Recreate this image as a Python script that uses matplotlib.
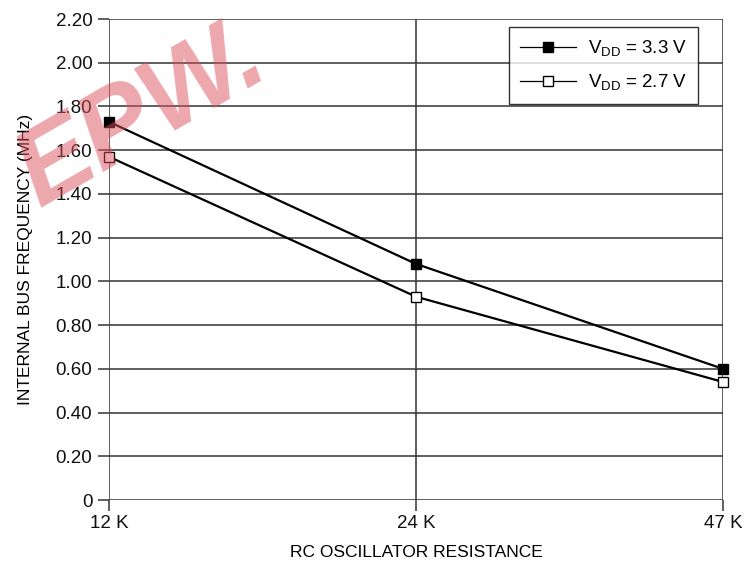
#!/usr/bin/env python3
"""Internal bus frequency vs RC oscillator resistance for two supply voltages."""

import matplotlib
matplotlib.use('Agg')
import matplotlib.pyplot as plt
from matplotlib.lines import Line2D

plt.rcParams['font.family'] = ['Liberation Sans', 'DejaVu Sans']
plt.rcParams['mathtext.fontset'] = 'custom'
plt.rcParams['mathtext.rm'] = 'Liberation Sans'
plt.rcParams['mathtext.it'] = 'Liberation Sans'

# Data
resistance_labels = ['12 K', '24 K', '47 K']
freq_3v3 = [1.73, 1.08, 0.60]
freq_2v7 = [1.57, 0.93, 0.54]
y_ticks = [0, 0.2, 0.4, 0.6, 0.8, 1.0, 1.2, 1.4, 1.6, 1.8, 2.0, 2.2]
y_tick_labels = ['0'] + [f'{v:.2f}' for v in y_ticks[1:]]

GRID = '#333333'

fig = plt.figure(figsize=(7.46, 5.65), dpi=100)
ax = fig.add_axes([0.1461, 0.1150, 0.8231, 0.8513])

x = list(range(len(resistance_labels)))
ax.plot(x, freq_3v3, color='black', lw=1.6, marker='s', ms=7.5,
        mfc='black', mec='black', mew=1, zorder=3, clip_on=False)
ax.plot(x, freq_2v7, color='black', lw=1.6, marker='s', ms=7.5,
        mfc='white', mec='black', mew=1, zorder=3, clip_on=False)

ax.set_xlim(0, 2)
ax.set_ylim(0, 2.2)
ax.set_xticks(x)
ax.set_xticklabels(resistance_labels)
ax.set_yticks(y_ticks)
ax.set_yticklabels(y_tick_labels)

for s in ax.spines.values():
    s.set_visible(False)
ax.grid(True, color=GRID, lw=1.1)
ax.set_axisbelow(True)
ax.tick_params(axis='both', direction='out', length=8, width=1.1,
               color=GRID, labelsize=13.5, labelcolor='#111111', pad=4)
ax.tick_params(axis='x', pad=3)

ax.set_xlabel('RC OSCILLATOR RESISTANCE', fontsize=12.5, labelpad=9)
ax.set_ylabel('INTERNAL BUS FREQUENCY (MHz)', fontsize=12.5, labelpad=16)

handles = [
    Line2D([], [], color='black', lw=0.9, marker='s', ms=7, mfc='black', mec='black'),
    Line2D([], [], color='black', lw=0.9, marker='s', ms=7, mfc='white', mec='black'),
]
labels = [r'V$_{\mathrm{DD}}$ = 3.3 V', r'V$_{\mathrm{DD}}$ = 2.7 V']
leg = ax.legend(handles, labels, loc='upper right', bbox_to_anchor=(698 / 746, 1 - 27 / 565),
                bbox_transform=fig.transFigure, fontsize=13.5, frameon=True, fancybox=False,
                handlelength=3.0, handletextpad=0.6, borderpad=0.6, labelspacing=0.75,
                borderaxespad=0)
leg.get_frame().set_edgecolor('black')
leg.get_frame().set_linewidth(1.0)
leg.set_zorder(5)

# red watermark across the upper left corner
fig.text(0.0, 0.99, 'EPW.', fontsize=78, fontweight='bold', fontstyle='italic',
         color='#d9505c', alpha=0.5, rotation=30, family='Liberation Sans',
         ha='left', va='top', rotation_mode='default', zorder=10)

fig.savefig('out.png', dpi=100, facecolor='white')
